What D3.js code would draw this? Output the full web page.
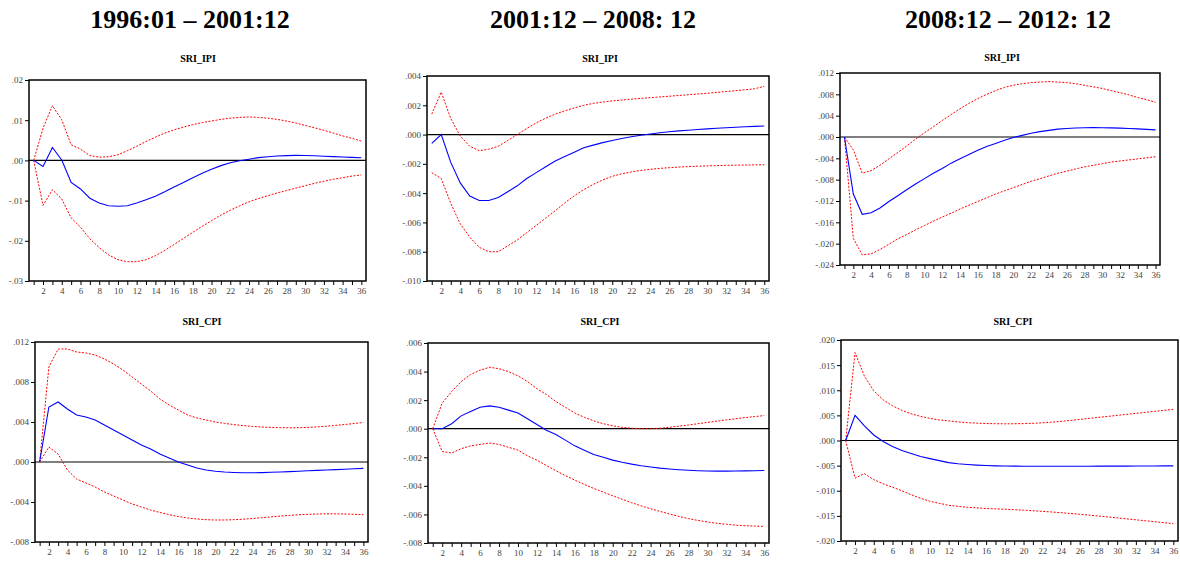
<!DOCTYPE html>
<html>
<head>
<meta charset="utf-8">
<script src="https://cdn.jsdelivr.net/npm/d3@7/dist/d3.min.js"></script>
<style>
  html, body { margin: 0; padding: 0; background: #fff; }
  svg { display: block; }
  .hdr { font-family: "Liberation Serif", "DejaVu Serif", serif; font-weight: bold; font-size: 26px; fill: #000; }
  .ttl { font-family: "Liberation Serif", serif; font-weight: bold; font-size: 10px; fill: #000; }
  .tick text { font-family: "Liberation Serif", serif; font-size: 9px; fill: #444; }
</style>
</head>
<body>
<svg id="chart" width="1180" height="561"></svg>
<script>
// Impulse responses over 36 periods: point estimate with +/- 2 S.E. bands
const periods = d3.range(1, 37);
const xTicksLabelled = d3.range(2, 37, 2);

const periodHeaders = ["1996:01 \u2013 2001:12", "2001:12 \u2013 2008: 12", "2008:12 \u2013 2012: 12"];
const panelTitles = ["SRI_IPI", "SRI_CPI"];

// 1996:01 - 2001:12, SRI_IPI
const ipiA = [0, -0.0015, 0.0032, 0.0001, -0.0055, -0.0071, -0.0094, -0.0106, -0.0113, -0.0114, -0.0113, -0.0106, -0.0098, -0.0089, -0.0078, -0.0066, -0.0055, -0.0043, -0.0032, -0.0022, -0.0013, -0.0006, -0.0001, 0.0003, 0.0007, 0.0009, 0.0011, 0.0012, 0.00125, 0.00122, 0.00115, 0.00105, 0.00095, 0.00085, 0.00075, 0.00065];
const ipiAUp = [0, 0.0080, 0.0136, 0.0101, 0.0039, 0.0028, 0.0012, 0.0008, 0.0009, 0.0014, 0.0024, 0.0035, 0.0047, 0.0058, 0.0068, 0.0076, 0.0083, 0.0089, 0.0094, 0.0098, 0.0102, 0.0105, 0.0107, 0.0108, 0.0107, 0.0105, 0.0102, 0.0098, 0.0093, 0.0087, 0.0081, 0.0075, 0.0068, 0.0061, 0.0055, 0.0048];
const ipiALo = [0, -0.0112, -0.0073, -0.0096, -0.0143, -0.0166, -0.0195, -0.0217, -0.0235, -0.0247, -0.0252, -0.0252, -0.0247, -0.0237, -0.0224, -0.0209, -0.0194, -0.0179, -0.0164, -0.0150, -0.0136, -0.0124, -0.0113, -0.0103, -0.0095, -0.0088, -0.0081, -0.0075, -0.0069, -0.0063, -0.0057, -0.0052, -0.0047, -0.0043, -0.0039, -0.0036];

// 2001:12 - 2008:12, SRI_IPI
const ipiB = [-0.0006, 0.0, -0.0019, -0.0033, -0.0042, -0.0045, -0.0045, -0.0043, -0.0039, -0.0035, -0.0030, -0.0026, -0.0022, -0.0018, -0.0015, -0.0012, -0.0009, -0.00072, -0.00055, -0.0004, -0.00027, -0.00015, -0.00005, 0.00004, 0.00012, 0.00019, 0.00025, 0.0003, 0.00035, 0.00039, 0.00043, 0.00047, 0.0005, 0.00053, 0.00056, 0.00059];
const ipiBUp = [0.0014, 0.0029, 0.0011, -0.0001, -0.0008, -0.0011, -0.0010, -0.0008, -0.0004, 0.0, 0.00042, 0.0008, 0.00112, 0.0014, 0.00162, 0.00182, 0.0020, 0.00213, 0.00222, 0.0023, 0.00236, 0.00242, 0.00247, 0.00252, 0.00257, 0.00262, 0.00267, 0.00272, 0.00277, 0.00282, 0.00288, 0.00294, 0.0030, 0.00306, 0.00313, 0.0033];
const ipiBLo = [-0.0026, -0.0030, -0.0047, -0.0061, -0.0070, -0.0077, -0.0080, -0.0080, -0.0076, -0.0072, -0.0067, -0.0062, -0.0057, -0.0052, -0.00467, -0.00418, -0.00376, -0.0034, -0.0031, -0.00285, -0.00268, -0.00255, -0.00245, -0.00237, -0.00231, -0.00226, -0.00222, -0.00219, -0.00216, -0.00214, -0.00212, -0.0021, -0.00209, -0.00208, -0.00207, -0.00206];

// 2008:12 - 2012:12, SRI_IPI
const ipiC = [0, -0.0107, -0.0145, -0.0142, -0.0133, -0.0121, -0.0110, -0.0099, -0.0088, -0.0078, -0.0068, -0.0059, -0.0049, -0.0041, -0.0033, -0.0025, -0.0018, -0.0012, -0.0006, -0.0001, 0.0003, 0.0007, 0.0010, 0.00125, 0.00148, 0.0016, 0.00168, 0.00173, 0.00175, 0.00174, 0.00171, 0.00166, 0.0016, 0.00152, 0.00143, 0.00134];
const ipiCUp = [0, -0.0024, -0.0068, -0.0063, -0.0053, -0.0041, -0.0029, -0.0017, -0.0004, 0.0008, 0.0019, 0.0031, 0.0042, 0.0053, 0.0063, 0.0072, 0.0080, 0.0087, 0.0093, 0.0097, 0.0100, 0.0102, 0.0103, 0.0104, 0.0103, 0.0102, 0.0100, 0.0097, 0.0094, 0.0091, 0.0087, 0.0083, 0.0079, 0.0074, 0.0070, 0.0065];
const ipiCLo = [0, -0.0190, -0.0221, -0.0219, -0.0211, -0.0201, -0.0191, -0.0183, -0.0174, -0.0166, -0.0158, -0.0150, -0.0143, -0.0135, -0.0128, -0.0121, -0.0114, -0.0107, -0.0101, -0.0095, -0.0089, -0.0083, -0.0078, -0.0073, -0.0068, -0.0064, -0.0060, -0.0056, -0.0053, -0.0050, -0.0047, -0.0045, -0.0043, -0.0041, -0.0039, -0.0037];

// 1996:01 - 2001:12, SRI_CPI
const cpiA = [0, 0.0055, 0.0060, 0.0053, 0.0047, 0.0045, 0.0042, 0.0037, 0.0032, 0.0027, 0.0022, 0.0017, 0.0013, 0.0008, 0.0004, 0.0, -0.0003, -0.0006, -0.0008, -0.00092, -0.0010, -0.00105, -0.00108, -0.00108, -0.00106, -0.00103, -0.0010, -0.00096, -0.00092, -0.00088, -0.00084, -0.0008, -0.00076, -0.00072, -0.00068, -0.00064];
const cpiAUp = [0, 0.0095, 0.0113, 0.0113, 0.0110, 0.0109, 0.0107, 0.0103, 0.0098, 0.0092, 0.0085, 0.0078, 0.0071, 0.0063, 0.0057, 0.0052, 0.0047, 0.0044, 0.0042, 0.0040, 0.00386, 0.00374, 0.00364, 0.00356, 0.0035, 0.00346, 0.00343, 0.00342, 0.00343, 0.00346, 0.00351, 0.00358, 0.00366, 0.00375, 0.00385, 0.00395];
const cpiALo = [0, 0.0015, 0.0008, -0.0008, -0.0017, -0.0021, -0.0025, -0.0030, -0.0034, -0.0038, -0.0042, -0.0045, -0.0048, -0.00505, -0.00527, -0.00545, -0.0056, -0.0057, -0.00577, -0.0058, -0.0058, -0.00577, -0.00572, -0.00565, -0.00557, -0.00549, -0.00541, -0.00534, -0.00528, -0.00523, -0.0052, -0.00518, -0.00518, -0.0052, -0.00523, -0.00527];

// 2001:12 - 2008:12, SRI_CPI
const cpiB = [0, 0, 0.00035, 0.0009, 0.0012, 0.0015, 0.0016, 0.0015, 0.0013, 0.0011, 0.0007, 0.0003, -0.0001, -0.0004, -0.0008, -0.0012, -0.0015, -0.0018, -0.0020, -0.0022, -0.00235, -0.00248, -0.00259, -0.00268, -0.00276, -0.00282, -0.00287, -0.00291, -0.00294, -0.00296, -0.00297, -0.00297, -0.00296, -0.00295, -0.00294, -0.00292];
const cpiBUp = [0, 0.0018, 0.0026, 0.0033, 0.0038, 0.0041, 0.0043, 0.0042, 0.0040, 0.0037, 0.0033, 0.0028, 0.0024, 0.0019, 0.0015, 0.0011, 0.0008, 0.00055, 0.00035, 0.0002, 0.0001, 0.00003, 0.0, 0.0, 0.00003, 0.0001, 0.00018, 0.00026, 0.00035, 0.00044, 0.00053, 0.00062, 0.0007, 0.00078, 0.00085, 0.00092];
const cpiBLo = [0, -0.0016, -0.0017, -0.0014, -0.0012, -0.0011, -0.0010, -0.0011, -0.0013, -0.0015, -0.0019, -0.0022, -0.00258, -0.00294, -0.00328, -0.0036, -0.0039, -0.00418, -0.00444, -0.00469, -0.00494, -0.00518, -0.0054, -0.0056, -0.00579, -0.00597, -0.00614, -0.00629, -0.00642, -0.00653, -0.00662, -0.00669, -0.00675, -0.00679, -0.00682, -0.00684];

// 2008:12 - 2012:12, SRI_CPI
const cpiC = [0, 0.0050, 0.0029, 0.0011, -0.0002, -0.0012, -0.0020, -0.0026, -0.0032, -0.0036, -0.0040, -0.0044, -0.00462, -0.00478, -0.0049, -0.00498, -0.00504, -0.00508, -0.0051, -0.00511, -0.00512, -0.00512, -0.00512, -0.00512, -0.00512, -0.00511, -0.00511, -0.0051, -0.0051, -0.00509, -0.00509, -0.00508, -0.00507, -0.00506, -0.00505, -0.00505];
const cpiCUp = [0, 0.0175, 0.0128, 0.0099, 0.0081, 0.0069, 0.0060, 0.0053, 0.0048, 0.0044, 0.0041, 0.0039, 0.0037, 0.00355, 0.00345, 0.00338, 0.00334, 0.00332, 0.00333, 0.00336, 0.00342, 0.00352, 0.00365, 0.0038, 0.0040, 0.0042, 0.0044, 0.0046, 0.0048, 0.0050, 0.0052, 0.0054, 0.0056, 0.0058, 0.0060, 0.0062];
const cpiCLo = [0, -0.0075, -0.0066, -0.0078, -0.0086, -0.0093, -0.0100, -0.0108, -0.0115, -0.0121, -0.0125, -0.0129, -0.0131, -0.0133, -0.0134, -0.01355, -0.0136, -0.01368, -0.01377, -0.01387, -0.01398, -0.0141, -0.01423, -0.01437, -0.01452, -0.01468, -0.01485, -0.01503, -0.01521, -0.0154, -0.01559, -0.01578, -0.01597, -0.01616, -0.01635, -0.01655];

// y-axis tick values for each panel
const ipiATicks = [0.02, 0.01, 0.0, -0.01, -0.02, -0.03];
const ipiBTicks = [0.004, 0.002, 0.0, -0.002, -0.004, -0.006, -0.008, -0.010];
const ipiCTicks = [0.012, 0.008, 0.004, 0.0, -0.004, -0.008, -0.012, -0.016, -0.020, -0.024];
const cpiATicks = [0.012, 0.008, 0.004, 0.0, -0.004, -0.008];
const cpiBTicks = [0.006, 0.004, 0.002, 0.0, -0.002, -0.004, -0.006, -0.008];
const cpiCTicks = [0.020, 0.015, 0.010, 0.005, 0.0, -0.005, -0.010, -0.015, -0.020];

// panel frames (pixel boxes) and decimals for tick labels
const panels = [
  { title: panelTitles[0], resp: ipiA, up: ipiAUp, lo: ipiALo, ticks: ipiATicks, dec: 2, box: [29, 80, 366, 281], tx: 198, ty: 62 },
  { title: panelTitles[0], resp: ipiB, up: ipiBUp, lo: ipiBLo, ticks: ipiBTicks, dec: 3, box: [427, 76, 769, 281], tx: 600, ty: 62 },
  { title: panelTitles[0], resp: ipiC, up: ipiCUp, lo: ipiCLo, ticks: ipiCTicks, dec: 3, box: [840, 73, 1160, 265], tx: 1002, ty: 61 },
  { title: panelTitles[1], resp: cpiA, up: cpiAUp, lo: cpiALo, ticks: cpiATicks, dec: 3, box: [35, 342, 368, 542], tx: 202, ty: 325 },
  { title: panelTitles[1], resp: cpiB, up: cpiBUp, lo: cpiBLo, ticks: cpiBTicks, dec: 3, box: [428, 343, 769, 543], tx: 600, ty: 325 },
  { title: panelTitles[1], resp: cpiC, up: cpiCUp, lo: cpiCLo, ticks: cpiCTicks, dec: 3, box: [841, 340, 1178, 541], tx: 1013, ty: 325 }
];

const svg = d3.select("#chart");

// column headers
const headerX = [190, 593, 1008];
svg.selectAll("text.hdr").data(periodHeaders).join("text")
  .attr("class", "hdr")
  .attr("x", (d, i) => headerX[i])
  .attr("y", 28)
  .attr("text-anchor", "middle")
  .text(d => d);

function fmt(dec) {
  return v => {
    const s = Math.abs(v).toFixed(dec).replace(/^0/, "");
    return (v < -1e-12 ? "-" : "") + s;
  };
}

panels.forEach(p => {
  const [x0, y0, x1, y1] = p.box;
  const yMax = d3.max(p.ticks), yMin = d3.min(p.ticks);
  const x = d3.scaleLinear().domain([0.5, 36.5]).range([x0, x1]);
  const y = d3.scaleLinear().domain([yMin, yMax]).range([y1, y0]);
  const g = svg.append("g");

  g.append("text").attr("class", "ttl")
    .attr("x", p.tx).attr("y", p.ty)
    .attr("text-anchor", "middle")
    .text(p.title);

  // y axis
  const yAxis = d3.axisLeft(y).tickValues(p.ticks).tickFormat(fmt(p.dec)).tickSize(4).tickPadding(2);
  const ya = g.append("g").attr("transform", `translate(${x0},0)`).call(yAxis);
  ya.select(".domain").remove();
  ya.selectAll(".tick line").attr("stroke", "#000");

  // x axis: tick at every period, label on even periods
  const xAxis = d3.axisBottom(x).tickValues(periods)
    .tickFormat(d => (xTicksLabelled.includes(d) ? d : ""))
    .tickSize(4).tickPadding(3);
  const xa = g.append("g").attr("transform", `translate(0,${y1})`).call(xAxis);
  xa.select(".domain").remove();
  xa.selectAll(".tick line").attr("stroke", "#000");

  // zero reference line
  g.append("line")
    .attr("x1", x0).attr("x2", x1)
    .attr("y1", y(0)).attr("y2", y(0))
    .attr("stroke", "#000").attr("stroke-width", 1.2);

  const line = d3.line().x((d, i) => x(periods[i])).y(d => y(d));

  g.append("path").datum(p.up).attr("d", line)
    .attr("fill", "none").attr("stroke", "#ff0000").attr("stroke-width", 1)
    .attr("stroke-dasharray", "2,1.5");
  g.append("path").datum(p.lo).attr("d", line)
    .attr("fill", "none").attr("stroke", "#ff0000").attr("stroke-width", 1)
    .attr("stroke-dasharray", "2,1.5");
  g.append("path").datum(p.resp).attr("d", line)
    .attr("fill", "none").attr("stroke", "#0000ff").attr("stroke-width", 1.1);

  // frame
  g.append("rect")
    .attr("x", x0).attr("y", y0)
    .attr("width", x1 - x0).attr("height", y1 - y0)
    .attr("fill", "none").attr("stroke", "#000").attr("stroke-width", 1.5);
});
</script>
</body>
</html>
